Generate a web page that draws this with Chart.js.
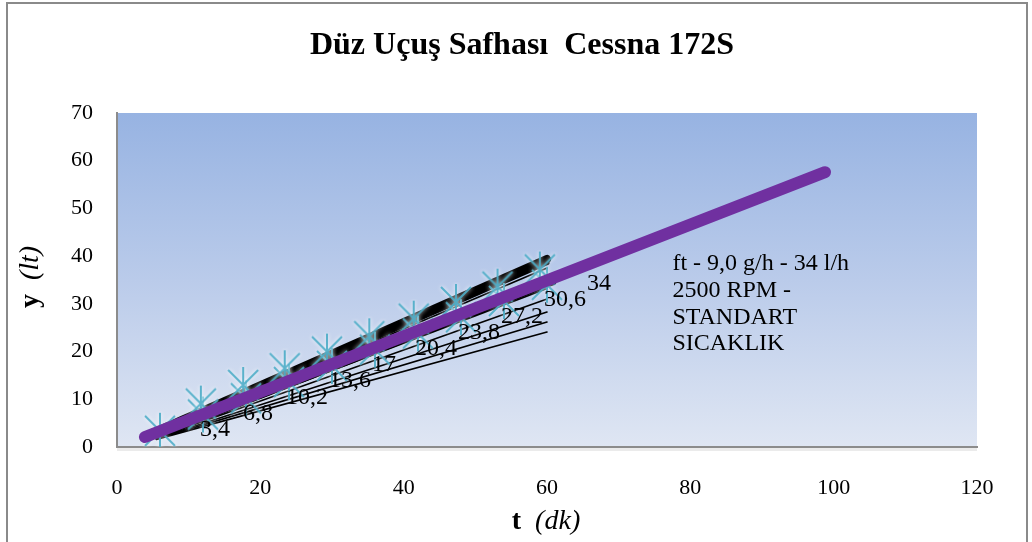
<!DOCTYPE html>
<html>
<head>
<meta charset="utf-8">
<script src="https://cdn.jsdelivr.net/npm/chart.js@4.4.0/dist/chart.umd.min.js"></script>
<style>
  html, body { margin: 0; padding: 0; background: #fff; }
  #wrap { width: 1032px; height: 542px; position: relative; }
</style>
</head>
<body>
<div id="wrap"><canvas id="myChart" width="1032" height="542"></canvas></div>
<script>
// chart values
const chartTitle = "Düz Uçuş Safhası  Cessna 172S";
const xTicks = [0, 20, 40, 60, 80, 100, 120];
const yTicks = [0, 10, 20, 30, 40, 50, 60, 70];

// labelled points (t, y) -> 34 l/h
const labelT = [6, 12, 18, 24, 30, 36, 42, 48, 54, 60];
const labelY = [3.4, 6.8, 10.2, 13.6, 17, 20.4, 23.8, 27.2, 30.6, 34];

// upper cross markers
const crossT = [11.7, 17.6, 23.4, 29.3, 35.2, 41.4, 47.3, 53.1, 59];
const crossY = [9.1, 13.0, 16.5, 20.0, 23.2, 26.9, 30.4, 33.6, 37.2];

// black lines: start and end points
const lineStartT = [5, 5, 5, 5, 5.5, 5.5, 5.5, 5.5, 5.5, 5.5];
const lineStartY = [3.0, 2.5, 2.4, 2.2, 2.0, 2.0, 1.9, 1.8, 1.7, 1.6];
const lineEndT = [60, 60, 60, 60, 61, 60, 60, 60, 60, 60];
const lineEndY = [39.4, 38.6, 37.5, 35.6, 34.4, 33.2, 31, 28.3, 26.2, 24.1];

// purple fit line
const fitT = [3.9, 98.8];
const fitY = [2.1, 57.6];

const noteLines = ["ft - 9,0 g/h - 34 l/h", "2500 RPM -", "STANDART", "SICAKLIK"];

const serif = "'Liberation Serif', 'Times New Roman', serif";

function makeCross() {
  const c = document.createElement("canvas");
  c.width = 38;
  c.height = 40;
  const g = c.getContext("2d");
  g.shadowColor = "rgba(255,255,255,0.95)";
  g.shadowBlur = 4;
  g.strokeStyle = "rgba(75,172,198,0.9)";
  g.lineWidth = 2;
  g.beginPath();
  g.moveTo(4, 5); g.lineTo(34, 35);
  g.moveTo(34, 5); g.lineTo(4, 35);
  g.moveTo(19, 2); g.lineTo(19, 38);
  g.stroke();
  return c;
}

const blackWidths = [8, 5, 1.6, 1.6, 4, 1.6, 1.6, 1.6, 1.6, 1.6];
const blackSets = lineStartT.map((t, i) => ({
  label: "line" + i,
  data: [{ x: t, y: lineStartY[i] }, { x: lineEndT[i], y: lineEndY[i] }],
  borderColor: "#000",
  borderWidth: blackWidths[i],
  pointRadius: 0,
  showLine: true,
  borderCapStyle: "round",
  order: 3
}));

const bgPlugin = {
  id: "bg",
  beforeDraw(chart) {
    const { ctx, chartArea: a } = chart;
    ctx.save();
    ctx.fillStyle = "#fff";
    ctx.fillRect(0, 0, chart.width, chart.height);
    // outer frame
    ctx.strokeStyle = "#8a8a8a";
    ctx.lineWidth = 2;
    ctx.strokeRect(7, 3, 1020, 545);
    // plot area gradient
    const grad = ctx.createLinearGradient(0, a.top, 0, a.bottom);
    grad.addColorStop(0, "#97b3e2");
    grad.addColorStop(0.5, "#bacbea");
    grad.addColorStop(1, "#dfe6f3");
    ctx.fillStyle = grad;
    ctx.fillRect(a.left, a.top, a.right - a.left, a.bottom - a.top);
    // shadow under bottom edge
    ctx.fillStyle = "rgba(0,0,0,0.08)";
    ctx.fillRect(a.left, a.bottom + 1, a.right - a.left, 3);
    ctx.restore();
  }
};

const textPlugin = {
  id: "texts",
  afterDatasetsDraw(chart) {
    const { ctx, scales } = chart;
    const xs = scales.x, ys = scales.y;
    ctx.save();
    // data labels
    ctx.fillStyle = "#000";
    ctx.font = "24px " + serif;
    ctx.textAlign = "left";
    ctx.textBaseline = "middle";
    labelT.forEach((t, i) => {
      const px = xs.getPixelForValue(t);
      const py = ys.getPixelForValue(labelY[i]);
      ctx.fillText(String(labelY[i]).replace(".", ","), px + 40, py - 1);
    });
    // note
    ctx.font = "24px " + serif;
    const nx = xs.getPixelForValue(77.5);
    noteLines.forEach((s, i) => {
      ctx.fillText(s, nx, 264 + i * 26.7);
    });
    // title
    ctx.font = "bold 32px " + serif;
    ctx.textAlign = "center";
    ctx.fillText(chartTitle, 522, 46);
    // x title
    ctx.textAlign = "left";
    ctx.font = "bold 28px " + serif;
    const tW = ctx.measureText("t").width;
    ctx.font = "italic 28px " + serif;
    const dW = ctx.measureText("  (dk)").width;
    let sx = 546 - (tW + dW) / 2;
    ctx.font = "bold 28px " + serif;
    ctx.fillText("t", sx, 522);
    ctx.font = "italic 28px " + serif;
    ctx.fillText("  (dk)", sx + tW, 522);
    // y title
    ctx.translate(31, 277);
    ctx.rotate(-Math.PI / 2);
    ctx.font = "bold 28px " + serif;
    const yW = ctx.measureText("y").width;
    ctx.font = "italic 28px " + serif;
    const lW = ctx.measureText("  (lt)").width;
    sx = -(yW + lW) / 2;
    ctx.font = "bold 28px " + serif;
    ctx.fillText("y", sx, 0);
    ctx.font = "italic 28px " + serif;
    ctx.fillText("  (lt)", sx + yW, 0);
    ctx.restore();
  }
};

const cross = makeCross();

new Chart(document.getElementById("myChart"), {
  type: "scatter",
  data: {
    datasets: [
      ...blackSets,
      {
        label: "cross",
        data: crossT.map((t, i) => ({ x: t, y: crossY[i] })),
        pointStyle: cross,
        pointRadius: 17,
        showLine: false,
        order: 2
      },
      {
        label: "34 l/h",
        data: labelT.map((t, i) => ({ x: t, y: labelY[i] })),
        pointStyle: cross,
        pointRadius: 17,
        showLine: false,
        order: 2
      },
      {
        label: "fit",
        data: fitT.map((t, i) => ({ x: t, y: fitY[i] })),
        showLine: true,
        borderColor: "#7030a0",
        borderWidth: 12,
        borderCapStyle: "round",
        pointRadius: 0,
        order: 1
      }
    ]
  },
  options: {
    responsive: false,
    animation: false,
    events: [],
    layout: { padding: { left: 0, right: 55, top: 113, bottom: 0 } },
    plugins: { legend: { display: false }, tooltip: { enabled: false } },
    scales: {
      x: {
        type: "linear",
        min: xTicks[0],
        max: xTicks[xTicks.length - 1],
        afterBuildTicks: (s) => { s.ticks = xTicks.map((v) => ({ value: v })); },
        afterFit: (s) => { s.height = 95; },
        grid: { display: true, color: "rgba(0,0,0,0)", drawTicks: false },
        border: { display: true, color: "#8c8c8c", width: 2 },
        ticks: { color: "#000", font: { family: serif, size: 22 }, padding: 28, maxRotation: 0 }
      },
      y: {
        type: "linear",
        min: yTicks[0],
        max: yTicks[yTicks.length - 1],
        afterBuildTicks: (s) => { s.ticks = yTicks.map((v) => ({ value: v })); },
        afterFit: (s) => { s.width = 117; },
        grid: { display: true, color: "rgba(0,0,0,0)", drawTicks: false },
        border: { display: true, color: "#8c8c8c", width: 2 },
        ticks: { color: "#000", font: { family: serif, size: 22 }, padding: 24 }
      }
    }
  },
  plugins: [bgPlugin, textPlugin]
});
</script>
</body>
</html>
